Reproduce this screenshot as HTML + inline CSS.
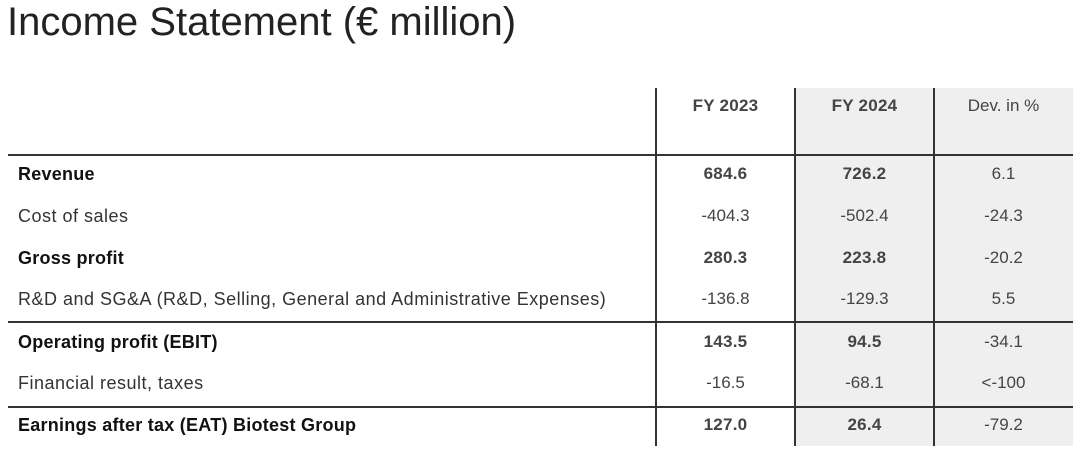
<!DOCTYPE html>
<html><head><meta charset="utf-8"><style>
body{margin:0;width:1080px;height:452px;background:#fff;position:relative;overflow:hidden;font-family:"Liberation Sans",sans-serif;color:#222}
.a{position:absolute;white-space:nowrap}
.t{left:7px;top:0px;font-size:40px;color:#222;letter-spacing:0px}
.l{left:18px;font-size:18px;line-height:20px;color:#333;letter-spacing:0.5px}
.b{font-weight:bold;color:#111;letter-spacing:0.25px}
.c{font-size:17px;line-height:20px;text-align:center;color:#444}
.c1{left:656px;width:139px}.c2{left:795px;width:139px}.c3{left:934px;width:139px}
.h{height:2px;background:#333;left:8px;width:1065px}
.v{width:2px;background:#333;top:88px;height:358px}
</style></head><body>
<div class="a t">Income Statement (€ million)</div>
<div class="a" style="left:795px;top:88px;width:278px;height:358px;background:#efefef"></div>
<div class="a h" style="top:154px"></div>
<div class="a h" style="top:321px"></div>
<div class="a h" style="top:406px"></div>
<div class="a v" style="left:655px"></div>
<div class="a v" style="left:794px"></div>
<div class="a v" style="left:933px"></div>
<div class="a c c1 b" style="top:96px">FY 2023</div>
<div class="a c c2 b" style="top:96px">FY 2024</div>
<div class="a c c3" style="top:96px">Dev. in %</div>

<div class="a l b" style="top:164px">Revenue</div>
<div class="a l" style="top:206px">Cost of sales</div>
<div class="a l b" style="top:248px">Gross profit</div>
<div class="a l" style="top:289px">R&amp;D and SG&amp;A (R&amp;D, Selling, General and Administrative Expenses)</div>
<div class="a l b" style="top:332px">Operating profit (EBIT)</div>
<div class="a l" style="top:373px">Financial result, taxes</div>
<div class="a l b" style="top:415px">Earnings after tax (EAT) Biotest Group</div>

<div class="a c c1 b" style="top:164px">684.6</div><div class="a c c2 b" style="top:164px">726.2</div><div class="a c c3" style="top:164px">6.1</div>
<div class="a c c1" style="top:206px">-404.3</div><div class="a c c2" style="top:206px">-502.4</div><div class="a c c3" style="top:206px">-24.3</div>
<div class="a c c1 b" style="top:248px">280.3</div><div class="a c c2 b" style="top:248px">223.8</div><div class="a c c3" style="top:248px">-20.2</div>
<div class="a c c1" style="top:289px">-136.8</div><div class="a c c2" style="top:289px">-129.3</div><div class="a c c3" style="top:289px">5.5</div>
<div class="a c c1 b" style="top:332px">143.5</div><div class="a c c2 b" style="top:332px">94.5</div><div class="a c c3" style="top:332px">-34.1</div>
<div class="a c c1" style="top:373px">-16.5</div><div class="a c c2" style="top:373px">-68.1</div><div class="a c c3" style="top:373px">&lt;-100</div>
<div class="a c c1 b" style="top:415px">127.0</div><div class="a c c2 b" style="top:415px">26.4</div><div class="a c c3" style="top:415px">-79.2</div>
</body></html>
